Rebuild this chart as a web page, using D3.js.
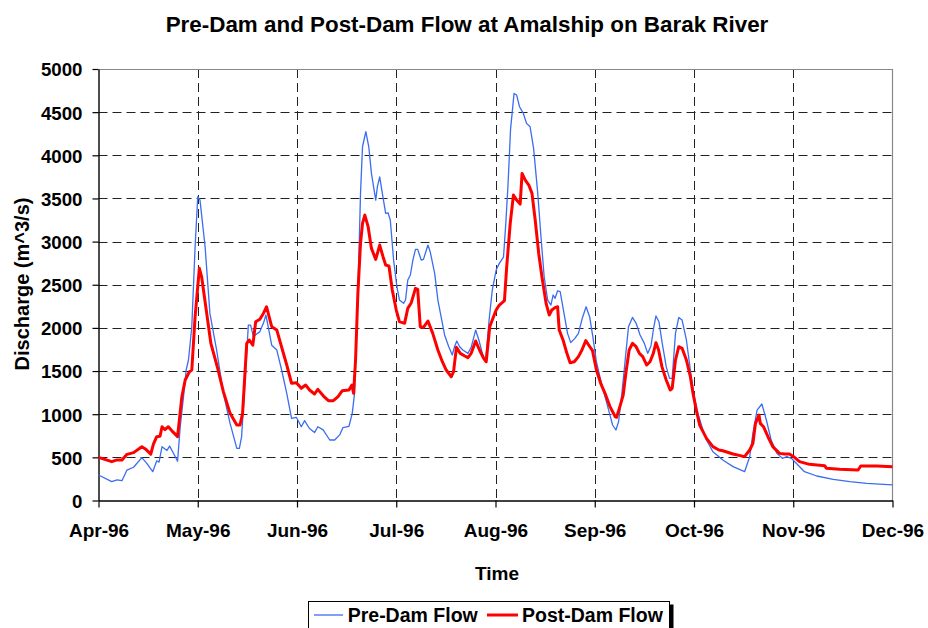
<!DOCTYPE html>
<html>
<head>
<meta charset="utf-8">
<script src="https://cdn.jsdelivr.net/npm/d3@7"></script>
<style>
  html, body { margin: 0; padding: 0; background: #fff; }
  svg { display: block; font-family: "Liberation Sans", Arial, sans-serif; font-weight: bold; }
</style>
</head>
<body>
<svg id="chart" width="928" height="628"></svg>
<script>
// ---------------- DATA ----------------
const chartTitle = "Pre-Dam and Post-Dam Flow at Amalship on Barak River";
const xTitle = "Time";
const yTitle = "Discharge (m^3/s)";
const seriesNames = ["Pre-Dam Flow", "Post-Dam Flow"];

const monthStarts = ["1996-04-01","1996-05-01","1996-06-01","1996-07-01","1996-08-01",
                     "1996-09-01","1996-10-01","1996-11-01","1996-12-01"];
const monthLabels = ["Apr-96","May-96","Jun-96","Jul-96","Aug-96","Sep-96","Oct-96","Nov-96","Dec-96"];
const yTicks = [0,500,1000,1500,2000,2500,3000,3500,4000,4500,5000];

// days since 1 Apr 1996
const preDay = [0,4.0,5.6,7.1,8.6,10.6,13.1,14.6,16.4,17.6,18.3,19.2,20.7,21.5,22.7,23.9,24.7,25.7,26.5,27.2,28.2,29.2,30,
  30.7,32.3,33.8,35.9,38,40.1,42.2,43,43.7,44.8,45.8,46.5,47.4,48.4,49.4,50.5,51.3,52,53.1,54.7,56.2,57.8,59.3,60.8,
  62.3,63.3,64.7,66.3,67.3,68.9,70.9,72.4,73.9,74.9,76.7,77.7,78.4,79.4,80.2,80.8,81.8,82.7,83.5,84.8,85.3,86,86.8,87.8,88.5,89.2,90.2,
  91.2,92,93.3,93.9,94.6,95.4,96.2,97,97.7,98.8,99.5,100.9,101.6,103,104,105,106.1,107.4,108.5,109.2,109.9,110.8,111.8,113.4,114.4,115.8,116.8,117.9,118.9,120,121,
  122.2,123.2,124.5,125.2,125.9,126.7,127.8,128.6,129.5,130.7,131.7,132.8,133.9,135.2,136.2,137.2,138.3,139.3,140,140.6,141.4,142.2,143.4,144.5,145.5,146.8,147.9,149.1,150.3,151.4,152.4,
  153.5,154.8,156.1,157.4,158.4,159.4,160.2,161.2,162.2,163.2,164.4,165.5,166.7,168,169,170,170.7,171.5,172.4,173.4,174.6,175.6,176.4,177.4,178.4,179.4,180.7,181.9,
  183,184.2,185.8,186.9,188.9,190.8,192,195.2,198.8,200.4,201.4,202.7,204.2,205.6,207.1,208.9,210.6,212,213.4,
  214.9,217.4,221.1,226.1,231.1,236.2,244];
const preFlow = [295,218,240,230,353,385,496,430,334,460,445,623,580,630,545,455,855,1203,1512,1628,2014,2940,3520,
  3480,2940,2168,1743,1242,893,604,604,740,1397,2033,2033,1898,1930,1957,2053,2149,2014,1800,1743,1512,1242,952,964,
  855,925,837,787,855,818,701,701,760,845,860,1010,1242,2400,3559,4099,4273,4099,3790,3481,3636,3751,3559,3327,3334,3250,2786,
  2477,2323,2285,2323,2555,2613,2786,2910,2910,2786,2794,2960,2883,2632,2323,2130,1918,1782,1686,1782,1848,1782,1744,1705,1775,1975,1860,1705,1608,2091,2439,
  2670,2748,2820,3200,3650,4300,4717,4698,4563,4485,4370,4331,4080,3559,3056,2593,2323,2265,2381,2342,2430,2420,2168,1937,1829,1879,1937,2111,2245,2130,1898,
  1608,1396,1203,1018,875,817,913,1242,1628,2014,2121,2053,1918,1821,1705,1790,1976,2138,2072,1821,1551,1415,1415,1937,2121,2091,1860,1512,
  1222,1010,817,701,565,507,469,392,334,507,778,1048,1118,933,701,546,489,508,489,
  431,334,284,245,218,199,180];

const postDay = [0,4.0,5.6,7.1,8.6,10.6,13.1,14.4,15.8,16.6,17.6,18.6,19.2,20.1,21.1,22.5,23.9,25.2,26.2,27.5,28.2,29.2,
  30.5,31.2,32.8,34.1,36.1,38,40.1,42.2,43.2,44,45.3,46.1,47.2,48.1,49.4,50.5,51.5,53.1,54.7,56.2,57.8,59.3,60.8,
  62.3,63.6,64.8,66.3,67.3,69,70.5,72,73.4,74.7,76.7,77.6,78.1,78.7,79.4,80.2,80.8,81.5,82.5,83.5,84.8,86,87,87.8,88.8,89.8,91,
  92,93.6,94.6,95.7,97,97.7,98.5,99.5,100.9,102.4,104,105.4,106.6,108.2,108.9,109.8,111,112.4,113.4,114.4,115.8,117,118.3,119.1,120.2,121.2,
  122.2,123.2,124.8,125.5,126.6,127.6,128.6,129.7,130.3,131.3,132.4,133.4,134.4,135.5,136.5,137.8,138.8,139.6,140.7,141.4,141.9,143.1,144.3,145.3,146.6,147.9,149,150.2,151.3,152.3,
  153.5,154.8,156.1,157.6,159.2,159.6,160.6,161.6,162.4,163.4,164.4,165.5,166.5,167.5,168.7,169.7,170.7,171.5,172.3,173.3,174.6,175.8,176.4,177.4,178.4,179.4,180.7,181.9,182.7,
  183.7,184.8,186.9,188.9,190.8,192,195.2,198.8,200.4,201.4,202.2,203.3,203.7,204.7,206.1,207.6,209.7,211.3,212.8,
  214.1,215.9,218.9,223.5,224,228,233.6,234.4,239.2,244];
const postFlow = [500,450,470,470,535,555,623,590,537,653,740,745,855,822,855,795,740,1203,1396,1493,1512,2130,
  2690,2595,2168,1820,1550,1262,1010,875,875,1010,1820,1860,1800,2071,2100,2168,2245,2014,1975,1778,1570,1358,1365,
  1300,1338,1280,1234,1288,1210,1157,1157,1203,1273,1280,1338,1242,1628,2400,2980,3211,3307,3173,2921,2794,2960,2825,2728,2717,2439,2207,
  2072,2053,2226,2292,2458,2447,2014,2006,2080,1937,1744,1608,1512,1434,1493,1775,1705,1675,1655,1705,1848,1744,1647,1608,2014,2111,
  2207,2265,2315,2709,3211,3539,3481,3435,3790,3713,3655,3559,3250,2863,2593,2284,2149,2207,2238,2245,1975,1860,1705,1597,1608,1667,1744,1852,1790,1736,
  1512,1358,1242,1088,971,964,1088,1222,1474,1744,1821,1782,1705,1667,1570,1608,1705,1829,1744,1551,1396,1280,1300,1628,1782,1763,1628,1435,1242,
  1049,870,720,624,585,577,539,508,585,662,894,990,894,855,739,624,546,539,539,
  508,450,419,404,373,361,353,400,400,392];

// ---------------- LAYOUT ----------------
const X0 = 98.5, X1 = 892.5, Y0 = 69, Y1 = 500.5;
const svg = d3.select("#chart");
const base = Date.UTC(1996, 3, 1);
const toDate = d => new Date(base + d * 864e5);
const months = monthStarts.map(s => new Date(s + "T00:00:00Z"));
const x = d3.scaleUtc().domain(months)
  .range(months.map((m, i) => X0 + i * (X1 - X0) / (months.length - 1)));
const y = d3.scaleLinear().domain([0, 5000]).range([Y1, Y0]);

// gridlines
const grid = svg.append("g");
grid.selectAll("line.h").data(yTicks.filter(v => v > 0 && v < 5000)).join("line")
  .attr("x1", X0).attr("x2", X1)
  .attr("y1", d => Math.round(y(d)) + 0.5).attr("y2", d => Math.round(y(d)) + 0.5)
  .attr("stroke", "#222").attr("stroke-width", 1).attr("stroke-dasharray", "9,5");
grid.selectAll("line.v").data(months.slice(1, -1)).join("line")
  .attr("y1", Y0).attr("y2", Y1)
  .attr("x1", d => Math.round(x(d)) + 0.5).attr("x2", d => Math.round(x(d)) + 0.5)
  .attr("stroke", "#222").attr("stroke-width", 1).attr("stroke-dasharray", "9,5");

// plot frame (top/right gray)
svg.append("line").attr("x1", X0).attr("x2", X1).attr("y1", Y0 + 0.5).attr("y2", Y0 + 0.5)
  .attr("stroke", "#888").attr("stroke-width", 1.2);
svg.append("line").attr("x1", X1).attr("x2", X1).attr("y1", Y0).attr("y2", Y1)
  .attr("stroke", "#888").attr("stroke-width", 1.2);

// axes
const yAxis = svg.append("g").attr("transform", `translate(${X0},0)`)
  .call(d3.axisLeft(y).tickValues(yTicks).tickSize(6).tickSizeOuter(0).tickPadding(10).tickFormat(d3.format("d")));
yAxis.select(".domain").attr("stroke", "#000").attr("stroke-width", 1.4);
yAxis.selectAll(".tick line").attr("stroke", "#000").attr("stroke-width", 1.2);
yAxis.selectAll(".tick text").attr("font-size", "18.7px").attr("font-weight", "bold")
  .attr("font-family", "Liberation Sans, Arial, sans-serif").attr("fill", "#000").attr("dy", "0.37em");

const xAxis = svg.append("g").attr("transform", `translate(0,${Y1})`)
  .call(d3.axisBottom(x).tickValues(months).tickSize(7).tickSizeOuter(0).tickPadding(16)
    .tickFormat((d, i) => monthLabels[i]));
xAxis.select(".domain").attr("stroke", "#000").attr("stroke-width", 1.4);
xAxis.selectAll(".tick line").attr("stroke", "#000").attr("stroke-width", 1.2);
xAxis.selectAll(".tick text").attr("font-size", "19px").attr("font-weight", "bold")
  .attr("font-family", "Liberation Sans, Arial, sans-serif").attr("fill", "#000").attr("dy", "0.71em");

// series
const line = d3.line().x(d => x(toDate(d[0]))).y(d => y(d[1]));
svg.append("path").datum(d3.zip(preDay, preFlow))
  .attr("fill", "none").attr("stroke", "#3b6df2").attr("stroke-width", 1.3)
  .attr("stroke-linejoin", "round").attr("d", line);
svg.append("path").datum(d3.zip(postDay, postFlow))
  .attr("fill", "none").attr("stroke", "#ff0000").attr("stroke-width", 3)
  .attr("stroke-linejoin", "round").attr("d", line);

// titles
svg.append("text").attr("x", 467).attr("y", 32).attr("text-anchor", "middle")
  .attr("font-size", "22.4px").text(chartTitle);
svg.append("text").attr("x", 497).attr("y", 579.5).attr("text-anchor", "middle")
  .attr("font-size", "19px").text(xTitle);
svg.append("text").attr("transform", "translate(28.5,284) rotate(-90)").attr("text-anchor", "middle")
  .attr("font-size", "20px").text(yTitle);

// legend
const lg = svg.append("g");
lg.append("rect").attr("x", 311.5).attr("y", 604.5).attr("width", 362).attr("height", 40).attr("fill", "#000");
lg.append("rect").attr("x", 308.5).attr("y", 601.5).attr("width", 361).attr("height", 40)
  .attr("fill", "#fff").attr("stroke", "#000").attr("stroke-width", 1);
const legendItems = [
  {name: seriesNames[0], color: "#3b6df2", w: 1.3, x1: 314, x2: 343, tx: 347.7},
  {name: seriesNames[1], color: "#ff0000", w: 3, x1: 487, x2: 518, tx: 522}
];
legendItems.forEach(it => {
  lg.append("line").attr("x1", it.x1).attr("x2", it.x2).attr("y1", 615).attr("y2", 615)
    .attr("stroke", it.color).attr("stroke-width", it.w);
  lg.append("text").attr("x", it.tx).attr("y", 622).attr("font-size", "19.5px").text(it.name);
});
</script>
</body>
</html>
